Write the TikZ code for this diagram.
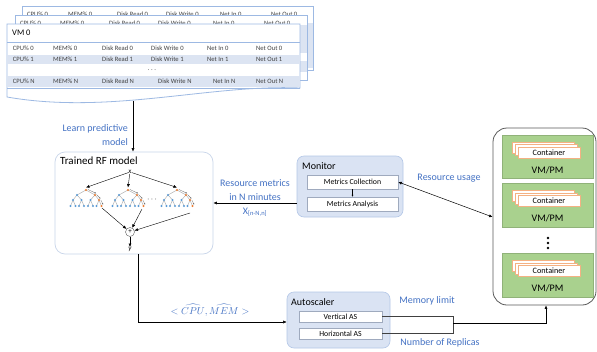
\documentclass[tikz,border=0pt]{standalone}
\usepackage{fontspec}
\setmainfont{Carlito}
\usetikzlibrary{arrows.meta,calc}

\definecolor{txtblue}{HTML}{4472C4}
\definecolor{panelfill}{HTML}{DAE3F3}
\definecolor{panelline}{HTML}{B4C7E7}
\definecolor{sheetline}{HTML}{9DB9E3}
\definecolor{band}{HTML}{DCE4F2}
\definecolor{rfline}{HTML}{C9D6EA}
\definecolor{vmgreen}{HTML}{A9D18E}
\definecolor{ctnline}{HTML}{F4B183}
\definecolor{leafblue}{HTML}{5B9BD5}
\definecolor{leaforange}{HTML}{ED7D31}
\definecolor{celltxt}{HTML}{404040}

% one small decision tree of the forest, root at the scope origin
\newcommand{\rftree}[1]{%
  \begin{scope}[shift={(#1)}]
    \draw[treeedge] (0,0) -- (-9,5) (0,0) -- (9,5)
      (-9,5) -- (-13,10) (-9,5) -- (-4.5,10) (9,5) -- (4.5,10) (9,5) -- (13,10)
      (-13,10) -- (-15.5,16) (-13,10) -- (-10.5,16)
      (-4.5,10) -- (-7,16) (-4.5,10) -- (-2,16)
      (4.5,10) -- (2,16) (4.5,10) -- (7,16)
      (13,10) -- (10.5,16) (13,10) -- (15.5,16);
    \draw[pathtip] (1.8,-0.6) -- (10.2,3.4);
    \draw[pathtip] (10.6,4.6) -- (14.6,8.8);
    \draw[pathtip] (14.8,10) -- (17.2,14.8);
    \foreach \p in {(-9,5),(-13,10),(-4.5,10),(4.5,10),
                    (-15.5,16),(-10.5,16),(-7,16),(-2,16),(2,16),(7,16),(10.5,16)}
      \fill[leafblue] \p circle (1.1pt);
    \foreach \p in {(0,0),(9,5),(13,10),(15.5,16)}
      \fill[leaforange] \p circle (1.1pt);
  \end{scope}}

\begin{document}
\begin{tikzpicture}[x=1pt,y=-1pt,
  arr/.style={-{Latex[length=3.5pt,width=3pt]}, line width=0.5pt},
  biarr/.style={{Latex[length=3.5pt,width=3pt]}-{Latex[length=3.5pt,width=3pt]}, line width=0.5pt},
  bluelabel/.style={text=txtblue, font=\fontsize{10}{14}\selectfont, align=center, inner sep=0},
  panel/.style={draw=panelline, fill=panelfill, rounded corners=7pt, line width=0.6pt, inner sep=0},
  subbox/.style={draw=panelline!60!gray, fill=white, line width=0.5pt, inner sep=0,
    font=\fontsize{7.8}{9}\selectfont},
  cell/.style={anchor=west, inner sep=0, text=celltxt, font=\fontsize{6.6}{8}\selectfont},
  treeedge/.style={draw=gray!75, line width=0.35pt},
  pathtip/.style={draw=gray!80!black, line width=0.3pt, -{Latex[length=1.6pt,width=1.4pt]}},
  vmbox/.style={fill=vmgreen, draw=vmgreen!85!black, line width=0.3pt,
    minimum width=91pt, minimum height=43.5pt, inner sep=0},
  ctn/.style={fill=white, draw=ctnline, line width=0.6pt, minimum width=62pt,
    minimum height=11pt, inner sep=0, font=\fontsize{8.2}{9}\selectfont},
  title/.style={anchor=west, inner sep=0, font=\fontsize{10}{12}\selectfont}]

\useasboundingbox (0,0) rectangle (597,351);
\fill[white] (0,0) rectangle (597,351);

% ---------- stacked sheets of VM metrics ----------
% third sheet (back)
\draw[sheetline, fill=white, line width=0.8pt] (22,6) rectangle (313,70);
\fill[band] (22.4,23) rectangle (312.6,68);
\foreach \lab/\cx [count=\j] in {CPU\%/27, MEM\%/68, Disk Read/117, Disk Write/166, Net In/220, Net Out/271}
  \node[cell] (s3c\j) at (\cx,14.3) {\lab\ 0};
% second sheet
\draw[sheetline, fill=white, line width=0.8pt] (15,15) rectangle (307,80);
\fill[band] (15.4,25) rectangle (306.6,53);
\fill[band] (15.4,61) rectangle (306.6,72);
\foreach \lab/\cx [count=\j] in {CPU\%/20, MEM\%/60, Disk Read/109, Disk Write/158, Net In/213, Net Out/264}
  \node[cell] (s2c\j) at (\cx,23.6) {\lab\ 0};
% front sheet with wavy bottom
\draw[sheetline, fill=white, line width=0.8pt]
  (7,24) -- (300,24) -- (300,88) .. controls (210,84) and (110,115) .. (7,97) -- cycle;
\fill[band] (7.4,55) rectangle (299.6,64);
\fill[band] (7.4,76) rectangle (299.6,87);
\draw[sheetline, line width=1pt] (7,42) -- (300,42);
\draw[sheetline, line width=0.6pt] (7,88) -- (300,88);
\node[anchor=west, inner sep=0, font=\fontsize{8.5}{10}\selectfont] (vmhead) at (12,33) {VM 0};
\foreach \lab/\cx [count=\j] in {CPU\%/12.7, MEM\%/53, Disk Read/102, Disk Write/151, Net In/207, Net Out/256}
  \node[cell] (r0c\j) at (\cx,48.5) {\lab\ 0};
\foreach \lab/\cx [count=\j] in {CPU\%/12.7, MEM\%/53, Disk Read/102, Disk Write/151, Net In/207, Net Out/256}
  \node[cell] (r1c\j) at (\cx,59.5) {\lab\ 1};
\node[cell, anchor=center] (rdots) at (152,70) {.\hspace{1.6pt}.\hspace{1.6pt}.};
\foreach \lab/\cx [count=\j] in {CPU\%/12.7, MEM\%/53, Disk Read/102, Disk Write/158, Net In/213, Net Out/256}
  \node[cell] (rNc\j) at (\cx,81.5) {\lab\ N};
\coordinate (sheetbot) at (133,100.5);

% ---------- trained random-forest model ----------
\node[draw=rfline, fill=white, rounded corners=10pt, line width=0.7pt,
  minimum width=158pt, minimum height=102pt, inner sep=0] (rf) at (134,203) {};
\node[title, font=\fontsize{11}{13}\selectfont] (rftitle) at (60,161) {Trained RF model};
\node[inner sep=0, font=\fontsize{7}{8}\selectfont\itshape] (xin) at (130,172) {x};
\rftree{86,190}
\rftree{128,190}
\rftree{177,190}
\node[inner sep=0, font=\fontsize{8}{9}\selectfont] (tdots) at (152,200) {$\cdots$};
\draw[arr, line width=0.4pt] (xin) -- (86,187.5);
\draw[arr, line width=0.4pt] (xin) -- (128,187.5);
\draw[arr, line width=0.4pt] (xin) -- (177,187.5);
\node[draw=gray!70!black, circle, minimum size=9pt, inner sep=0, line width=0.4pt,
  font=\fontsize{7}{8}\selectfont] (sum) at (130,232) {+};
\draw[arr, line width=0.4pt] (102,208) -- (sum);
\draw[arr, line width=0.4pt] (142,209) -- (sum);
\draw[arr, line width=0.4pt] (190,213) -- (sum);
\node[inner sep=0, font=\fontsize{7}{8}\selectfont\itshape] (yout) at (130,249.5) {y};
\draw[arr, line width=0.4pt] (sum) -- (yout.north);

% ---------- monitor ----------
\node[panel, minimum width=106pt, minimum height=61pt] (monitor) at (350,186.5) {};
\node[title] (montitle) at (302,166) {Monitor};
\node[subbox, minimum width=91pt, minimum height=14pt] (mc) at (352.5,182) {Metrics Collection};
\node[subbox, minimum width=91pt, minimum height=14pt] (ma) at (352.5,204) {Metrics Analysis};
\draw[arr, line width=0.4pt, -{Latex[length=2pt,width=2pt]}] (mc) -- (ma);

% ---------- autoscaler ----------
\node[panel, minimum width=103pt, minimum height=56pt] (autoscaler) at (338.5,320) {};
\node[title] (astitle) at (291,302) {Autoscaler};
\node[subbox, minimum width=83pt, minimum height=11pt] (vas) at (340.5,316.5) {Vertical AS};
\node[subbox, minimum width=83pt, minimum height=11pt] (has) at (340.5,333.5) {Horizontal AS};

% ---------- VM/PM pool ----------
\node[draw=black!65, fill=white, rounded corners=14pt, line width=0.8pt,
  minimum width=103pt, minimum height=177pt, inner sep=0] (pool) at (544.5,216.5) {};
\foreach \cy [count=\i] in {156.5,205,275}{
  \node[vmbox] (vm\i) at (547.5,\cy) {};
  \node[ctn] (ctnb\i) at ($(vm\i.center)+(-4.5,-9)$) {};
  \node[ctn] (ctnm\i) at ($(vm\i.center)+(-1.5,-6.5)$) {};
  \node[ctn] (ctnf\i) at ($(vm\i.center)+(1.5,-4)$) {Container};
  \node[inner sep=0, font=\fontsize{10}{12}\selectfont] (vml\i) at ($(vm\i.center)+(0,13.5)$) {VM/PM};
}
\foreach \dy [count=\i] in {238,243,248}
  \fill (548,\dy) circle (1.3pt) coordinate (pd\i);

% ---------- connectors ----------
\draw[arr] (sheetbot) -- (sheetbot |- rf.north);
\node[bluelabel, anchor=east, align=right] (learn) at (128,135) {Learn predictive\\model};

\draw[arr] (monitor.west |- 0,203) -- (rf.east |- 0,203);
\node[bluelabel] (rmlab) at (255,190) {Resource metrics\\in N minutes};
\node[bluelabel] (xlab) at (255,212) {X\textsubscript{\fontsize{6.5}{7}\selectfont[n-N,n]}};

\draw[biarr] (mc.east) -- (pool.west |- 0,217);
\node[bluelabel] (uslab) at (449,178) {Resource usage};

\draw[arr] ($(rf.south)+(4,0)$) |- ($(autoscaler.west)+(0,2)$);
\node[bluelabel, text=txtblue] (cmlab) at (210,310) {$<\widehat{CPU},\widehat{MEM}>$};

\coordinate (brk) at (453,323);
\draw[line width=0.6pt, draw=black!75] (vas.east) -- (vas.east -| brk) -- (has.east -| brk) -- (has.east);
\draw[arr] (brk) -| (pool.south -| 546,0);
\node[bluelabel] (memlab) at (427,301) {Memory limit};
\node[bluelabel] (replab) at (440,343) {Number of Replicas};

\end{tikzpicture}
\end{document}
